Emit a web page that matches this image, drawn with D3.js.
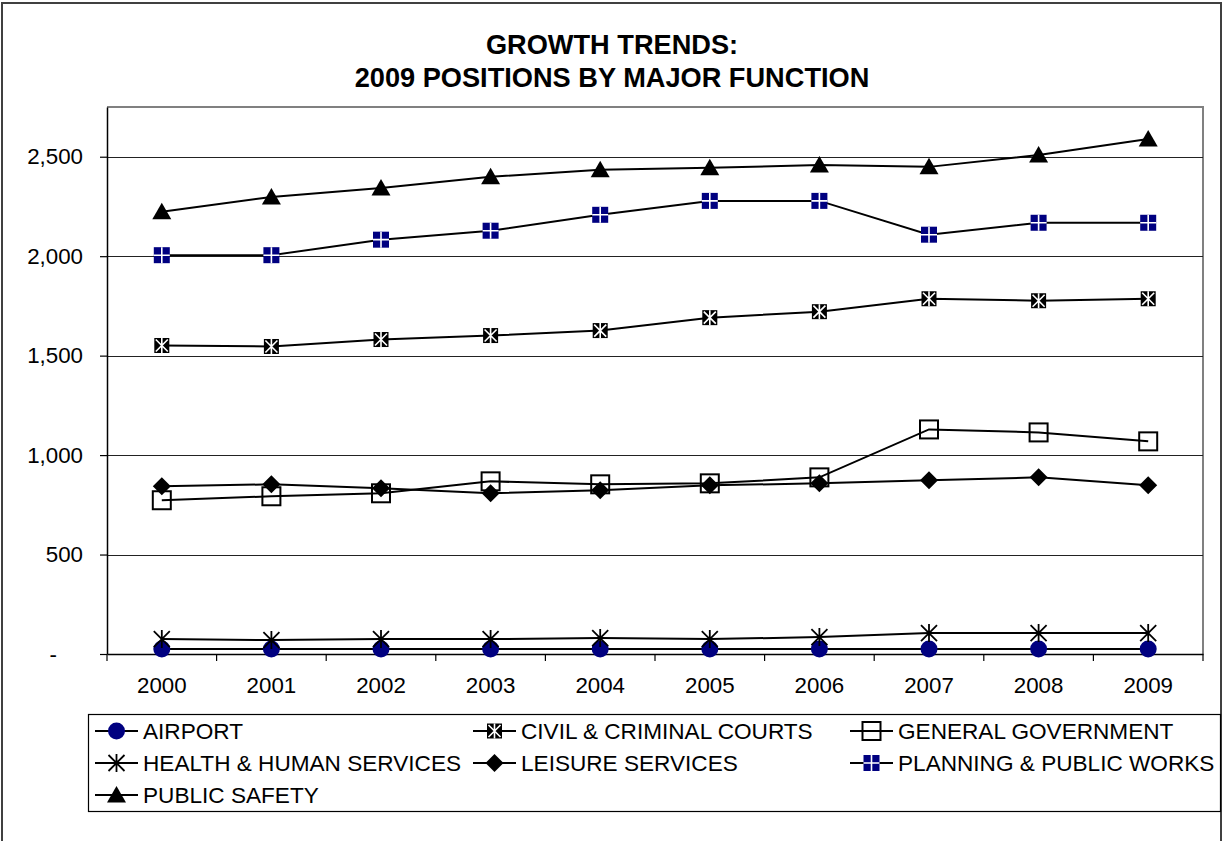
<!DOCTYPE html>
<html>
<head>
<meta charset="utf-8">
<script src="https://cdn.jsdelivr.net/npm/d3@7"></script>
<style>
  body { margin: 0; background: #fff; }
  text { font-family: "Liberation Sans", Arial, sans-serif; }
</style>
</head>
<body>
<script>
// values
var years = ["2000", "2001", "2002", "2003", "2004", "2005", "2006", "2007", "2008", "2009"];
var airport = [25, 25, 25, 25, 25, 25, 25, 25, 25, 25];
var courts = [1551, 1546, 1581, 1601, 1626, 1691, 1721, 1786, 1776, 1786];
var generalGov = [773, 793, 808, 868, 853, 858, 888, 1129, 1114, 1069];
var health = [75, 70, 75, 75, 80, 75, 85, 105, 105, 105];
var leisure = [843, 853, 833, 808, 823, 848, 858, 873, 888, 848];
var planning = [2005, 2005, 2083, 2128, 2208, 2278, 2278, 2108, 2168, 2168];
var publicSafety = [2223, 2298, 2343, 2399, 2434, 2444, 2459, 2449, 2509, 2589];
var yTicks = [0, 500, 1000, 1500, 2000, 2500];

var series = [
  {name: "AIRPORT", values: airport, marker: "circle"},
  {name: "CIVIL & CRIMINAL COURTS", values: courts, marker: "courts"},
  {name: "GENERAL GOVERNMENT", values: generalGov, marker: "square"},
  {name: "HEALTH & HUMAN SERVICES", values: health, marker: "star"},
  {name: "LEISURE SERVICES", values: leisure, marker: "diamond"},
  {name: "PLANNING & PUBLIC WORKS", values: planning, marker: "plus"},
  {name: "PUBLIC SAFETY", values: publicSafety, marker: "triangle"}
];

var width = 1225, height = 841;
var plot = {left: 107, right: 1203, top: 107, bottom: 654};

var svg = d3.select("body").append("svg")
    .attr("width", width)
    .attr("height", height);

// outer chart border
svg.append("rect")
    .attr("x", 2).attr("y", 3)
    .attr("width", 1219).attr("height", 860)
    .attr("fill", "none")
    .attr("stroke", "#404040")
    .attr("stroke-width", 2);

var x = d3.scaleBand()
    .domain(years)
    .range([plot.left, plot.right]);

var y = d3.scaleLinear()
    .domain([0, 2750])
    .range([plot.bottom, plot.top]);

// title
svg.append("text")
    .attr("x", 612).attr("y", 54)
    .attr("text-anchor", "middle")
    .attr("font-size", 27.2).attr("font-weight", "bold")
    .text("GROWTH TRENDS:");
svg.append("text")
    .attr("x", 612).attr("y", 87)
    .attr("text-anchor", "middle")
    .attr("font-size", 27.2).attr("font-weight", "bold")
    .text("2009 POSITIONS BY MAJOR FUNCTION");

// plot frame (top + right are grey)
svg.append("path")
    .attr("d", `M${plot.left},${plot.top}H${plot.right}V${plot.bottom}`)
    .attr("fill", "none")
    .attr("stroke", "#808080")
    .attr("stroke-width", 2);

// gridlines
svg.append("g")
  .selectAll("line")
  .data(yTicks.filter(d => d > 0))
  .enter().append("line")
    .attr("x1", plot.left).attr("x2", plot.right)
    .attr("y1", d => Math.round(y(d)) + 0.5)
    .attr("y2", d => Math.round(y(d)) + 0.5)
    .attr("stroke", "#222")
    .attr("stroke-width", 1.2);

// y axis
var yAxis = svg.append("g")
    .attr("transform", `translate(${plot.left},0)`)
    .call(d3.axisLeft(y)
      .tickValues(yTicks)
      .tickSize(7)
      .tickSizeOuter(0)
      .tickPadding(17)
      .tickFormat(d => d === 0 ? "-" : d3.format(",")(d)));
yAxis.select(".domain").attr("stroke", "#000").attr("stroke-width", 1.5);
yAxis.selectAll(".tick line").attr("stroke", "#000").attr("stroke-width", 1.2);
yAxis.selectAll(".tick text")
    .attr("font-size", 22.3)
    .attr("font-family", "Liberation Sans, Arial, sans-serif")
    .attr("fill", "#000");
yAxis.selectAll(".tick").filter(d => d === 0).select("text").attr("x", -50);

// x axis
var xAxis = svg.append("g")
    .attr("transform", `translate(0,${plot.bottom})`)
    .call(d3.axisBottom(x).tickSize(0).tickSizeOuter(0).tickPadding(23));
xAxis.select(".domain").attr("stroke", "#000").attr("stroke-width", 1.5);
xAxis.selectAll(".tick text")
    .attr("font-size", 22.3)
    .attr("font-family", "Liberation Sans, Arial, sans-serif")
    .attr("fill", "#000");
// category boundary ticks
xAxis.selectAll(".bound")
  .data(years.map(d => x(d)).concat([x.range()[1]]))
  .enter().append("line")
    .attr("class", "bound")
    .attr("x1", d => d).attr("x2", d => d)
    .attr("y1", 0).attr("y2", 7)
    .attr("stroke", "#000")
    .attr("stroke-width", 1.2);

function drawMarker(g, type) {
  if (type === "circle") {
    g.append("circle").attr("r", 8.5).attr("fill", "#000080");
  } else if (type === "courts") {
    g.append("rect").attr("x", -7.5).attr("y", -7.5).attr("width", 15).attr("height", 15).attr("fill", "#000");
    g.append("path").attr("d", "M-6,-6L6,6M6,-6L-6,6M0,-7.5V7.5")
        .attr("stroke", "#fff").attr("stroke-width", 1.6);
  } else if (type === "square") {
    g.append("rect").attr("x", -9).attr("y", -9).attr("width", 18).attr("height", 18)
        .attr("fill", "none").attr("stroke", "#000").attr("stroke-width", 2);
  } else if (type === "star") {
    g.append("path").attr("d", "M-8,-8L8,8M8,-8L-8,8M0,-9V9")
        .attr("stroke", "#000").attr("stroke-width", 1.8);
  } else if (type === "diamond") {
    g.append("path").attr("d", "M0,-9L9,0L0,9L-9,0Z").attr("fill", "#000");
  } else if (type === "plus") {
    g.append("rect").attr("x", -8).attr("y", -8).attr("width", 16).attr("height", 16).attr("fill", "#000080");
    g.append("path").attr("d", "M-8,0H8M0,-8V8")
        .attr("stroke", "#fff").attr("stroke-width", 1.6);
  } else if (type === "triangle") {
    g.append("path").attr("d", "M0,-9L9.5,7.5L-9.5,7.5Z").attr("fill", "#000");
  }
}

var line = d3.line()
    .x((d, i) => x(years[i]) + x.bandwidth() / 2)
    .y(d => y(d));

var sg = svg.append("g").selectAll("g.series")
  .data(series)
  .enter().append("g")
    .attr("class", "series");

sg.append("path")
    .attr("d", d => line(d.values))
    .attr("fill", "none")
    .attr("stroke", "#000")
    .attr("stroke-width", 2);

sg.each(function(s) {
  var grp = d3.select(this);
  s.values.forEach(function(v, i) {
    var m = grp.append("g")
        .attr("transform", `translate(${x(years[i]) + x.bandwidth() / 2},${y(v)})`);
    drawMarker(m, s.marker);
  });
});

// legend
var legend = svg.append("g");
legend.append("rect")
    .attr("x", 88.5).attr("y", 714.5)
    .attr("width", 1132).attr("height", 97)
    .attr("fill", "none")
    .attr("stroke", "#000")
    .attr("stroke-width", 1.2);

var colX = [95, 473, 850];
var rowY = [731, 763, 795];

series.forEach(function(s, i) {
  var cx = colX[i % 3], cy = rowY[Math.floor(i / 3)];
  var item = legend.append("g").attr("transform", `translate(${cx},${cy})`);
  item.append("line")
      .attr("x1", 0).attr("x2", 43)
      .attr("y1", 0).attr("y2", 0)
      .attr("stroke", "#000").attr("stroke-width", 2);
  drawMarker(item.append("g").attr("transform", "translate(21.5,0)"), s.marker);
  item.append("text")
      .attr("x", 48).attr("y", 0)
      .attr("dy", "0.35em")
      .attr("font-size", 22.6)
      .text(s.name);
});
</script>
</body>
</html>
